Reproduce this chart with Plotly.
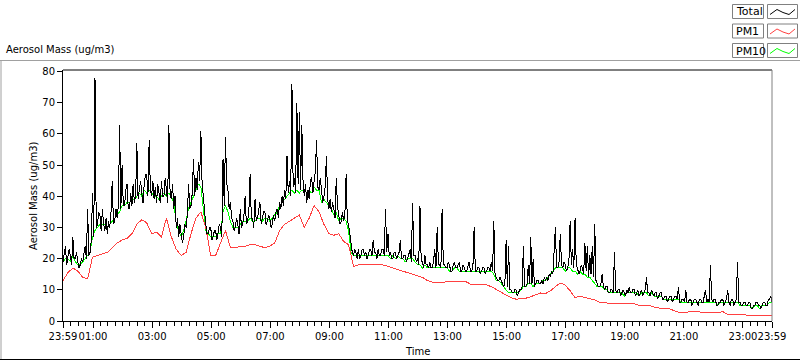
import plotly.graph_objects as go
import numpy as np

# ---------------- data ----------------
# Total aerosol mass (ug/m3), one value every 2.5 minutes starting at 23:59
total_step_min = 2.5
total_vals = [
    19, 22, 24, 18, 20, 23, 21, 18, 27, 20, 20, 22, 19, 17, 18, 20, 19, 22, 24, 20, 36, 21, 22, 26,
    41, 27, 78, 30, 31, 35, 34, 29, 36, 31, 29, 33, 28, 32, 30, 35, 45, 31, 32, 36, 33, 37, 63, 36,
    50, 37, 37, 42, 44, 36, 36, 41, 37, 44, 38, 40, 57, 39, 42, 45, 41, 38, 44, 47, 47, 40, 58, 42,
    40, 45, 39, 43, 38, 44, 41, 38, 45, 40, 40, 46, 42, 38, 63, 41, 39, 44, 36, 40, 30, 33, 27, 31,
    28, 25, 27, 31, 30, 34, 44, 36, 37, 41, 52, 40, 46, 42, 51, 45, 61, 44, 40, 34, 31, 28, 28, 30,
    30, 26, 27, 29, 29, 26, 28, 31, 30, 27, 52, 37, 59, 44, 42, 36, 38, 33, 32, 29, 30, 33, 31, 28,
    36, 30, 31, 34, 40, 31, 32, 35, 47, 33, 33, 30, 39, 32, 33, 36, 38, 31, 33, 35, 35, 31, 32, 34,
    33, 30, 31, 34, 32, 35, 36, 33, 38, 36, 40, 37, 42, 39, 53, 41, 45, 40, 76, 43, 46, 41, 70, 44,
    67, 42, 63, 45, 40, 44, 38, 42, 39, 45, 46, 41, 45, 48, 58, 43, 42, 46, 42, 38, 40, 43, 53, 39,
    36, 39, 35, 38, 36, 33, 46, 37, 34, 31, 32, 35, 32, 34, 47, 32, 31, 28, 24, 22, 21, 23, 22, 20,
    23, 20, 21, 23, 23, 21, 22, 20, 21, 23, 23, 21, 26, 22, 22, 20, 23, 21, 21, 23, 23, 21, 36, 22,
    28, 21, 22, 20, 20, 22, 22, 20, 21, 22, 26, 20, 20, 21, 21, 19, 20, 22, 23, 19, 38, 21, 21, 19,
    20, 18, 37, 19, 19, 17, 21, 18, 18, 17, 19, 17, 17, 19, 23, 17, 30, 18, 18, 17, 36, 18, 18, 17,
    17, 19, 18, 16, 16, 18, 19, 17, 17, 18, 19, 16, 16, 18, 17, 16, 16, 18, 19, 16, 16, 17, 30, 16,
    16, 17, 17, 15, 16, 17, 17, 15, 16, 17, 17, 16, 19, 16, 32, 15, 14, 13, 13, 14, 13, 12, 11, 12,
    26, 11, 24, 10, 10, 9, 9, 10, 10, 8, 9, 10, 10, 11, 24, 11, 11, 12, 18, 12, 27, 12, 20, 11,
    12, 13, 13, 12, 12, 13, 12, 14, 13, 14, 13, 15, 14, 16, 15, 22, 30, 17, 17, 19, 28, 18, 17, 19,
    18, 16, 17, 19, 32, 18, 23, 17, 33, 18, 17, 15, 16, 18, 17, 15, 25, 16, 24, 14, 21, 15, 24, 14,
    31, 13, 12, 11, 11, 12, 15, 11, 10, 11, 11, 9, 9, 10, 10, 9, 22, 10, 9, 10, 10, 8, 9, 10,
    9, 8, 10, 9, 11, 9, 9, 10, 10, 8, 9, 10, 8, 9, 10, 8, 9, 10, 14, 9, 9, 8, 10, 9,
    8, 9, 9, 7, 8, 9, 9, 7, 7, 8, 8, 6, 7, 8, 8, 6, 7, 8, 8, 7, 11, 6, 6, 7,
    7, 6, 10, 6, 6, 7, 7, 5, 6, 7, 7, 6, 5, 7, 7, 6, 6, 8, 10, 6, 7, 6, 18, 7,
    6, 7, 7, 5, 5, 6, 6, 7, 7, 5, 6, 7, 10, 6, 5, 7, 7, 5, 6, 7, 19, 6, 6, 5,
    5, 6, 6, 5, 5, 6, 6, 4, 4, 5, 5, 6, 6, 5, 5, 4, 5, 6, 6, 5, 5, 7, 7, 8,
    6,
]

# PM10 (ug/m3), one value every 5 minutes starting at 23:59
pm10_step_min = 5
pm10_vals = [
    19, 20, 20, 19, 21, 19, 18, 18, 19, 20, 21, 22,
    27, 29, 30, 31, 31, 31, 30, 31, 32, 33, 34, 35,
    37, 37, 38, 38, 39, 39, 40, 41, 40, 42, 41, 42,
    41, 40, 40, 39, 40, 41, 40, 41, 40, 38, 31, 29,
    27, 29, 32, 36, 38, 40, 42, 44, 43, 35, 29, 28,
    27, 27, 27, 28, 28, 35, 37, 35, 32, 30, 30, 30,
    31, 32, 32, 32, 33, 32, 32, 33, 33, 32, 33, 33,
    32, 33, 34, 35, 37, 38, 39, 40, 41, 42, 41, 42,
    41, 42, 42, 41, 42, 41, 43, 42, 42, 38, 39, 38,
    37, 36, 34, 35, 32, 33, 33, 32, 29, 22, 21, 21,
    21, 21, 21, 21, 21, 21, 21, 21, 21, 21, 21, 21,
    21, 20, 21, 20, 21, 20, 20, 19, 20, 20, 20, 19,
    18, 18, 17, 18, 17, 17, 17, 17, 17, 17, 17, 17,
    17, 16, 16, 17, 17, 16, 16, 16, 16, 16, 16, 16,
    16, 16, 16, 16, 16, 16, 16, 15, 13, 13, 12, 11,
    10, 9, 9, 9, 9, 9, 10, 11, 11, 12, 12, 11,
    12, 12, 12, 13, 13, 14, 15, 16, 17, 17, 17, 17,
    16, 17, 17, 16, 16, 15, 16, 15, 15, 14, 14, 13,
    12, 11, 11, 11, 10, 10, 9, 9, 9, 9, 9, 9,
    8, 9, 9, 9, 9, 9, 8, 9, 9, 9, 8, 9,
    8, 8, 8, 8, 7, 7, 7, 7, 7, 7, 7, 6,
    6, 6, 6, 6, 6, 6, 6, 6, 6, 6, 6, 6,
    6, 6, 5, 6, 6, 6, 6, 6, 6, 6, 6, 5,
    5, 5, 5, 5, 4, 5, 5, 4, 5, 5, 5, 6,
    6,
]

# PM1 (ug/m3), one value every 10 minutes starting at 23:59
pm1_step_min = 10
pm1_vals = [
    13, 15.5, 17, 16, 14, 13.5, 20.5, 21, 21.5, 22, 23.5, 25,
    26, 26.5, 28, 31, 32.5, 31.5, 28, 28.5, 27, 33, 27, 23,
    21, 22, 28, 33, 35, 30, 21, 21, 25, 29, 23.5, 23.5,
    24, 24, 24.5, 24.5, 24, 23.5, 24, 25, 29, 31, 32, 33,
    34, 30, 33, 37, 35, 31, 28, 27.5, 28, 25.5, 24.5, 17.5,
    18, 18, 18, 18, 18, 18, 17.5, 17, 16.5, 16, 15.5, 15,
    14.5, 14, 13, 12.5, 12.3, 12.3, 12.7, 12.7, 12.8, 12.6, 12.5, 11.6,
    11.8, 11.8, 11.6, 11, 10.2, 9.2, 8.3, 7.5, 7, 7.2, 7.3, 7.8,
    8.5, 9, 8.8, 9.7, 11, 12.2, 11.5, 9.7, 7.5, 8, 7.5, 7.2,
    6.8, 6, 6, 5.6, 5.5, 5.5, 5.5, 5.7, 5.5, 5, 5, 5,
    4.5, 4.3, 3.9, 4, 3.5, 2.8, 2.8, 3, 3, 3, 2.7, 2.7,
    2.7, 2.7, 3, 2.1, 2.1, 2.1, 1.9, 1.9, 1.7, 1.7, 1.9, 1.9,
    1.9,
]

# time axis tick labels (minutes after 23:59)
tick_minutes = [0, 61, 181, 301, 421, 541, 661, 781, 901, 1021, 1141, 1261, 1381, 1440]
tick_labels = ["23:59", "01:00", "03:00", "05:00", "07:00", "09:00", "11:00",
               "13:00", "15:00", "17:00", "19:00", "21:00", "23:00", "23:59"]
y_ticks = [0, 10, 20, 30, 40, 50, 60, 70, 80]

series_names = ["Total", "PM1", "PM10"]
series_colors = ["#000000", "#ff4040", "#00ff00"]

# ---------------- figure ----------------
W, H = 800, 361
ML, MR, MT, MB = 63, 28, 70, 40
PW, PH = W - ML - MR, H - MT - MB
FONT = "DejaVu Sans"

t_total = np.arange(len(total_vals)) * total_step_min
t_pm1 = np.arange(len(pm1_vals)) * pm1_step_min
t_pm10 = np.arange(len(pm10_vals)) * pm10_step_min

fig = go.Figure()
fig.add_trace(go.Scatter(x=t_pm10, y=pm10_vals, mode="lines", name="PM10",
                         line=dict(color=series_colors[2], width=1), showlegend=False))
fig.add_trace(go.Scatter(x=t_pm1, y=pm1_vals, mode="lines", name="PM1",
                         line=dict(color=series_colors[1], width=1), showlegend=False))
fig.add_trace(go.Scatter(x=t_total, y=total_vals, mode="lines", name="Total",
                         line=dict(color=series_colors[0], width=1), showlegend=False))


def px(xp):
    return (xp - ML) / PW


def py(yp):
    return (H - MB - yp) / PH


shapes = []
# plot frame: top black, right gray
shapes.append(dict(type="line", xref="paper", yref="paper", x0=0, x1=1, y0=1, y1=1,
                   line=dict(color="#000000", width=1)))
shapes.append(dict(type="line", xref="paper", yref="paper", x0=1, x1=1, y0=0, y1=1,
                   line=dict(color="#808080", width=1)))
# outer panel frame
shapes.append(dict(type="line", xref="paper", yref="paper", x0=px(0), x1=px(800),
                   y0=py(60.5), y1=py(60.5), line=dict(color="#a0a0a0", width=1)))
shapes.append(dict(type="line", xref="paper", yref="paper", x0=px(1), x1=px(1),
                   y0=py(60.5), y1=py(360), line=dict(color="#a0a0a0", width=1)))
shapes.append(dict(type="line", xref="paper", yref="paper", x0=px(0), x1=px(800),
                   y0=py(359.5), y1=py(359.5), line=dict(color="#000000", width=1)))

annotations = []
# legend boxes
for k, (nm, col) in enumerate(zip(series_names, series_colors)):
    top = 4.5 + 19.5 * k
    bot = top + 14
    shapes.append(dict(type="rect", xref="paper", yref="paper",
                       x0=px(732.5), x1=px(763.5), y0=py(bot), y1=py(top),
                       line=dict(color="#808080", width=1), fillcolor="white"))
    shapes.append(dict(type="rect", xref="paper", yref="paper",
                       x0=px(767.5), x1=px(797.5), y0=py(bot), y1=py(top),
                       line=dict(color="#808080", width=1), fillcolor="white"))
    zig_x = [770, 777, 783, 789, 795]
    zig_y = [top + 10, top + 5, top + 8, top + 10, top + 5]
    path = "M " + " L ".join(f"{px(a):.5f},{py(b):.5f}" for a, b in zip(zig_x, zig_y))
    shapes.append(dict(type="path", xref="paper", yref="paper", path=path,
                       line=dict(color=col, width=1)))
    annotations.append(dict(text=nm, xref="paper", yref="paper", x=px(734),
                            y=py(top + 7.5), xanchor="left", yanchor="middle",
                            showarrow=False, font=dict(family=FONT, size=11, color="black")))

annotations.append(dict(text="Aerosol Mass (ug/m3)", xref="paper", yref="paper",
                        x=px(4), y=py(49), xanchor="left", yanchor="middle",
                        showarrow=False, font=dict(family=FONT, size=10, color="black")))
annotations.append(dict(text="Aerosol Mass (ug/m3)", xref="paper", yref="paper",
                        x=px(33), y=py(196), xanchor="center", yanchor="middle",
                        textangle=-90, showarrow=False,
                        font=dict(family=FONT, size=10, color="black")))
annotations.append(dict(text="Time", xref="paper", yref="paper",
                        x=px(417), y=py(351), xanchor="center", yanchor="middle",
                        showarrow=False, font=dict(family=FONT, size=10, color="black")))

fig.update_layout(
    template="none",
    width=W, height=H,
    margin=dict(l=ML, r=MR, t=MT, b=MB, pad=0, autoexpand=False),
    paper_bgcolor="white", plot_bgcolor="white",
    font=dict(family=FONT, size=10, color="black"),
    shapes=shapes, annotations=annotations,
    showlegend=False,
    xaxis=dict(range=[0, 1440], tickmode="array", tickvals=tick_minutes, ticktext=tick_labels,
               tickangle=0, automargin=False,
               showgrid=False, zeroline=False, showline=True, linecolor="black", linewidth=1,
               ticks="outside", ticklen=6, tickcolor="black", tickwidth=1,
               tickfont=dict(family=FONT, size=10, color="black"),
               minor=dict(tick0=1, dtick=15, ticks="outside", ticklen=4,
                          tickcolor="black", tickwidth=1, showgrid=False)),
    yaxis=dict(range=[0, 80.5], tickmode="array", tickvals=y_ticks, automargin=False,
               showgrid=False, zeroline=False, showline=True, linecolor="black", linewidth=1,
               ticks="outside", ticklen=5, tickcolor="black", tickwidth=1,
               tickfont=dict(family=FONT, size=10, color="black")),
)

post_js = (
    "document.body.style.margin='0px';"
    "document.body.style.overflow='hidden';"
    "document.querySelectorAll('.scatterlayer path.js-line').forEach(function(p){"
    "p.style.shapeRendering='crispEdges';});"
)

fig.write_html("out.html", config={"displayModeBar": False}, post_script=post_js)
